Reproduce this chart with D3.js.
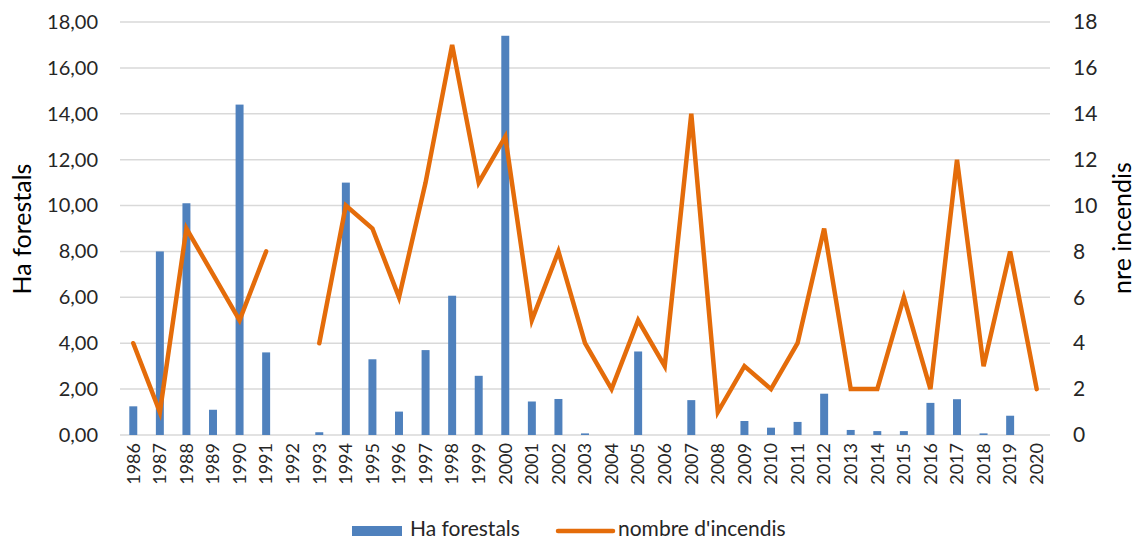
<!DOCTYPE html>
<html>
<head>
<meta charset="utf-8">
<script src="https://cdn.jsdelivr.net/npm/d3@7/dist/d3.min.js"></script>
<style>
  html, body { margin: 0; padding: 0; background: #fff; }
  svg { display: block; font-family: "Lato", "Open Sans", sans-serif; }
</style>
</head>
<body>
<svg id="chart" width="1137" height="542"></svg>
<script>
// Years on the category axis
const years = ["1986","1987","1988","1989","1990","1991","1992","1993","1994","1995",
  "1996","1997","1998","1999","2000","2001","2002","2003","2004","2005",
  "2006","2007","2008","2009","2010","2011","2012","2013","2014","2015",
  "2016","2017","2018","2019","2020"];

// Burnt forest area (ha) per year
const haForestals = [1.25, 8.0, 10.1, 1.1, 14.4, 3.6, 0, 0.12, 11.0, 3.3,
  1.02, 3.7, 6.07, 2.58, 17.4, 1.46, 1.57, 0.07, 0, 3.64,
  0, 1.52, 0, 0.61, 0.32, 0.57, 1.8, 0.22, 0.17, 0.17,
  1.4, 1.56, 0.07, 0.84, 0];

// Number of fires per year (no record for 1992)
const nombreIncendis = [4, 1, 9, 7, 5, 8, null, 4, 10, 9,
  6, 11, 17, 11, 13, 5, 8, 4, 2, 5,
  3, 14, 1, 3, 2, 4, 9, 2, 2, 6,
  2, 12, 3, 8, 2];

const leftTicks = [0, 2, 4, 6, 8, 10, 12, 14, 16, 18];
const rightTicks = [0, 2, 4, 6, 8, 10, 12, 14, 16, 18];

const svg = d3.select("#chart");
const plot = { left: 120, right: 1050, top: 22, bottom: 435 };
const textColor = "#262626";
const barColor = "#4F81BD";
const lineColor = "#E46C0A";
const font = "Lato, 'Open Sans', sans-serif";

const x = d3.scaleBand().domain(years).range([plot.left, plot.right]).paddingInner(0.7).paddingOuter(0.35);
const yL = d3.scaleLinear().domain([0, 18]).range([plot.bottom, plot.top]);
const yR = d3.scaleLinear().domain([0, 18]).range([plot.bottom, plot.top]);

// Horizontal gridlines
svg.append("g").selectAll("line").data(leftTicks).join("line")
  .attr("x1", plot.left).attr("x2", plot.right)
  .attr("y1", d => yL(d)).attr("y2", d => yL(d))
  .attr("stroke", "#D9D9D9").attr("stroke-width", 1.5);

// Left axis
const leftAxis = svg.append("g").attr("transform", `translate(${plot.left},0)`)
  .call(d3.axisLeft(yL).tickValues(leftTicks).tickSize(0).tickPadding(22)
    .tickFormat(d => d3.format(".2f")(d).replace(".", ",")));
leftAxis.select(".domain").remove();
leftAxis.selectAll("text").attr("font-size", 20).attr("fill", textColor).attr("font-family", font);

// Right axis
const rightAxis = svg.append("g").attr("transform", `translate(${plot.right},0)`)
  .call(d3.axisRight(yR).tickValues(rightTicks).tickSize(0).tickPadding(23));
rightAxis.select(".domain").remove();
rightAxis.selectAll("text").attr("font-size", 21).attr("fill", textColor).attr("font-family", font);

// Bottom axis with rotated year labels
const bottomAxis = svg.append("g").attr("transform", `translate(0,${plot.bottom})`)
  .call(d3.axisBottom(x).tickSize(0).tickPadding(0));
bottomAxis.select(".domain").remove();
bottomAxis.selectAll("text")
  .attr("font-size", 18).attr("fill", textColor).attr("font-family", font)
  .attr("transform", "rotate(-90)")
  .attr("text-anchor", "end")
  .attr("x", -8).attr("y", 0).attr("dy", "0.35em");

// Bars: forest area
svg.append("g").selectAll("rect").data(years.map((y, i) => ({ y, v: haForestals[i] }))).join("rect")
  .attr("x", d => x(d.y)).attr("width", x.bandwidth())
  .attr("y", d => yL(d.v)).attr("height", d => yL(0) - yL(d.v))
  .attr("fill", barColor);

// Line: number of fires (broken where data is missing)
const line = d3.line()
  .defined(d => d.v !== null)
  .x(d => x(d.y) + x.bandwidth() / 2)
  .y(d => yR(d.v));
svg.append("path")
  .datum(years.map((y, i) => ({ y, v: nombreIncendis[i] })))
  .attr("d", line)
  .attr("fill", "none").attr("stroke", lineColor).attr("stroke-width", 4.5)
  .attr("stroke-linejoin", "miter").attr("stroke-linecap", "round");

// Axis titles
svg.append("text").attr("transform", "translate(31,229) rotate(-90)")
  .attr("text-anchor", "middle").attr("font-size", 25).attr("fill", "#000")
  .text("Ha forestals");
svg.append("text").attr("transform", "translate(1131,228) rotate(-90)")
  .attr("text-anchor", "middle").attr("font-size", 25).attr("fill", "#000")
  .text("nre incendis");

// Legend
const legend = svg.append("g");
legend.append("rect").attr("x", 352).attr("y", 526).attr("width", 50).attr("height", 10).attr("fill", barColor);
legend.append("text").attr("x", 410).attr("y", 536).attr("font-size", 21).attr("fill", textColor).text("Ha forestals");
legend.append("line").attr("x1", 558).attr("x2", 613).attr("y1", 531).attr("y2", 531)
  .attr("stroke", lineColor).attr("stroke-width", 4.5).attr("stroke-linecap", "round");
legend.append("text").attr("x", 618).attr("y", 536).attr("font-size", 21).attr("fill", textColor).text("nombre d'incendis");
</script>
</body>
</html>
